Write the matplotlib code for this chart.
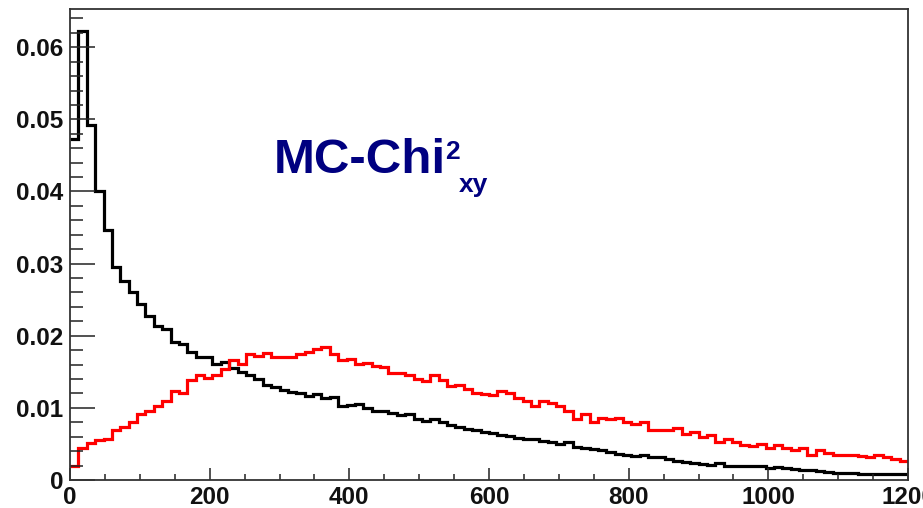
import matplotlib.pyplot as plt
from matplotlib.ticker import MultipleLocator, FixedFormatter, FixedLocator
import numpy as np

# histogram binning: 100 bins over 0..1200
x_min = 0
x_max = 1200
n_bins = 100

# black histogram
black_vals = [0.0473, 0.0622, 0.0492, 0.0400, 0.0346, 0.0295, 0.0276, 0.0260, 0.0244, 0.0228,
              0.0213, 0.0209, 0.0191, 0.0189, 0.0177, 0.0171, 0.0170, 0.0161, 0.0163, 0.0155,
              0.0150, 0.0146, 0.0140, 0.0132, 0.0129, 0.0125, 0.0122, 0.0120, 0.0117, 0.0119,
              0.0113, 0.0115, 0.0102, 0.0104, 0.0105, 0.0100, 0.0096, 0.0095, 0.0093, 0.0090,
              0.0092, 0.0085, 0.0082, 0.0085, 0.0081, 0.0076, 0.0074, 0.0071, 0.0069, 0.0067,
              0.0065, 0.0063, 0.0061, 0.0058, 0.0057, 0.0057, 0.0054, 0.0052, 0.0050, 0.0052,
              0.0046, 0.0045, 0.0043, 0.0042, 0.0039, 0.0036, 0.0034, 0.0033, 0.0035, 0.0032,
              0.0032, 0.0029, 0.0027, 0.0025, 0.0024, 0.0022, 0.0021, 0.0024, 0.0020, 0.0019,
              0.0019, 0.0020, 0.0019, 0.0016, 0.0018, 0.0017, 0.0015, 0.0014, 0.0014, 0.0012,
              0.0011, 0.0010, 0.0010, 0.0010, 0.0009, 0.0009, 0.0009, 0.0008, 0.0008, 0.0008]

# red histogram
red_vals = [0.0019, 0.0045, 0.0051, 0.0055, 0.0057, 0.0069, 0.0074, 0.0080, 0.0091, 0.0095,
            0.0102, 0.0109, 0.0123, 0.0121, 0.0138, 0.0145, 0.0142, 0.0146, 0.0154, 0.0167,
            0.0161, 0.0174, 0.0172, 0.0176, 0.0171, 0.0171, 0.0171, 0.0174, 0.0177, 0.0181,
            0.0184, 0.0174, 0.0167, 0.0168, 0.0161, 0.0162, 0.0158, 0.0156, 0.0148, 0.0149,
            0.0145, 0.0140, 0.0137, 0.0146, 0.0138, 0.0131, 0.0132, 0.0126, 0.0120, 0.0119,
            0.0118, 0.0124, 0.0120, 0.0114, 0.0110, 0.0102, 0.0110, 0.0107, 0.0103, 0.0095,
            0.0085, 0.0092, 0.0081, 0.0086, 0.0085, 0.0086, 0.0080, 0.0078, 0.0080, 0.0069,
            0.0069, 0.0069, 0.0072, 0.0064, 0.0066, 0.0060, 0.0063, 0.0053, 0.0057, 0.0052,
            0.0049, 0.0047, 0.0050, 0.0045, 0.0048, 0.0044, 0.0041, 0.0044, 0.0034, 0.0041,
            0.0038, 0.0035, 0.0035, 0.0034, 0.0033, 0.0032, 0.0035, 0.0032, 0.0029, 0.0027]

x_ticks = [0, 200, 400, 600, 800, 1000, 1200]
x_labels = ["0", "200", "400", "600", "800", "1000", "1200"]
y_ticks = [0, 0.01, 0.02, 0.03, 0.04, 0.05, 0.06]
y_labels = ["0", "0.01", "0.02", "0.03", "0.04", "0.05", "0.06"]

plt.rcParams['font.family'] = ['Liberation Sans', 'DejaVu Sans']

fig = plt.figure(figsize=(9.23, 5.08), dpi=100)
ax = fig.add_axes([70 / 923, 28 / 508, 838 / 923, 471 / 508])

edges = np.linspace(x_min, x_max, n_bins + 1)
ax.stairs(black_vals, edges, baseline=None, color="black", lw=2.3)
ax.stairs(red_vals, edges, baseline=None, color="#ff0000", lw=2.3)

ax.set_xlim(x_min, x_max)
ax.set_ylim(0, 0.0653)

ax.xaxis.set_major_locator(FixedLocator(x_ticks))
ax.xaxis.set_major_formatter(FixedFormatter(x_labels))
ax.xaxis.set_minor_locator(MultipleLocator(50))
ax.yaxis.set_major_locator(FixedLocator(y_ticks))
ax.yaxis.set_major_formatter(FixedFormatter(y_labels))
ax.yaxis.set_minor_locator(MultipleLocator(0.002))

ax.tick_params(axis="both", which="both", direction="in", color="#222222", width=1.1,
               top=False, right=False)
ax.tick_params(axis="x", which="major", length=9, pad=4, labelsize=17.5)
ax.tick_params(axis="x", which="minor", length=4.5)
ax.tick_params(axis="y", which="major", length=18, pad=5, labelsize=17.5)
ax.tick_params(axis="y", which="minor", length=9)
for lab in ax.get_xticklabels() + ax.get_yticklabels():
    lab.set_fontweight("bold")
    lab.set_color("#111111")

for sp in ax.spines.values():
    sp.set_linewidth(1.3)
    sp.set_color("#333333")

# title text
navy = "#000080"
fig.text(273.5 / 923, (508 - 173) / 508, "MC-Chi", fontsize=35.5, fontweight="bold",
         color=navy, va="baseline", ha="left")
fig.text(445 / 923, (508 - 159) / 508, "2", fontsize=19, fontweight="bold",
         color=navy, va="baseline", ha="left")
fig.text(459 / 923, (508 - 192) / 508, "xy", fontsize=19, fontweight="bold",
         color=navy, va="baseline", ha="left")

plt.savefig("out.png", dpi=100)
plt.close()
